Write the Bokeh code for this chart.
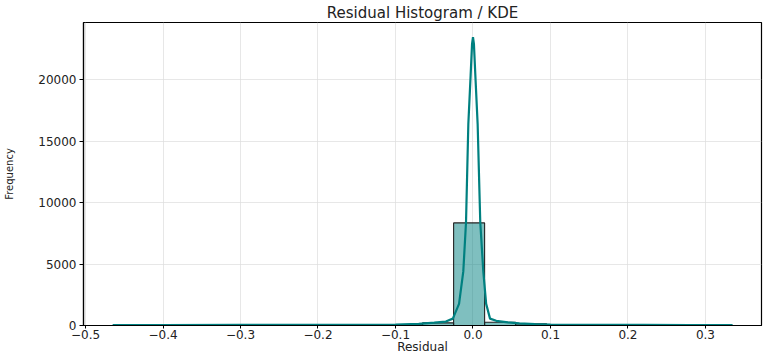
from bokeh.plotting import figure
from bokeh.models import Range1d, FixedTicker
from bokeh.embed import file_html
from bokeh.resources import INLINE

# Histogram bins (20 bins, width 0.04) and counts
bin_left = [-0.465, -0.425, -0.385, -0.345, -0.305, -0.265, -0.225, -0.185, -0.145, -0.105,
            -0.065, -0.025, 0.015, 0.055, 0.095, 0.135, 0.175, 0.215, 0.255, 0.295]
bin_right = [-0.425, -0.385, -0.345, -0.305, -0.265, -0.225, -0.185, -0.145, -0.105, -0.065,
             -0.025, 0.015, 0.055, 0.095, 0.135, 0.175, 0.215, 0.255, 0.295, 0.335]
counts = [2, 1, 1, 2, 3, 4, 6, 10, 20, 50,
          215, 8344, 270, 130, 30, 10, 5, 3, 1, 2]

# KDE curve (scaled to counts)
kde_x = [-0.465, -0.40, -0.30, -0.20, -0.15, -0.10, -0.07, -0.05, -0.035, -0.026, -0.018,
         -0.0125, -0.009, -0.006, -0.003, -0.0012, 0.0, 0.0012, 0.003, 0.006, 0.0094,
         0.0133, 0.017, 0.022, 0.03, 0.045, 0.06, 0.08, 0.10, 0.13, 0.17, 0.22, 0.28, 0.335]
kde_y = [40, 40, 45, 50, 60, 80, 140, 230, 320, 560, 1760,
         4400, 8400, 16400, 20400, 22900, 23450, 22900, 20400, 16400, 8400,
         4400, 1760, 560, 380, 250, 170, 110, 80, 60, 50, 45, 40, 40]

x_ticks = [-0.5, -0.4, -0.3, -0.2, -0.1, 0.0, 0.1, 0.2, 0.3]
x_tick_labels = ["\u22120.5", "\u22120.4", "\u22120.3", "\u22120.2", "\u22120.1", "0.0", "0.1", "0.2", "0.3"]
y_ticks = [0, 5000, 10000, 15000, 20000]

FONT = "DejaVu Sans"

p = figure(width=767, height=356, output_backend="svg", toolbar_location=None,
           x_range=Range1d(-0.5026, 0.3723), y_range=Range1d(0, 24640),
           min_border_left=83, min_border_right=6, min_border_top=18, min_border_bottom=31)

p.title.text = "Residual Histogram / KDE"
p.title.align = "center"
p.title.text_font = FONT
p.title.text_font_size = "15px"
p.title.text_font_style = "normal"
p.title.text_color = "#222222"
p.title.offset = 0
p.title.standoff = 2

p.quad(left=bin_left, right=bin_right, top=counts, bottom=0,
       fill_color="#008080", fill_alpha=0.5, line_color="#222222", line_width=1.1)
p.line(kde_x, kde_y, line_color="#008080", line_width=2.2)

p.outline_line_color = "black"
p.outline_line_width = 1.2
p.outline_line_alpha = 1

for ax in (p.xaxis[0], p.yaxis[0]):
    ax.axis_line_color = "black"
    ax.axis_line_width = 1.2
    ax.major_tick_line_color = "black"
    ax.major_tick_out = 4
    ax.major_tick_in = 0
    ax.minor_tick_line_color = None
    ax.major_label_text_font = FONT
    ax.major_label_text_font_size = "12px"
    ax.major_label_text_color = "#222222"
    ax.axis_label_text_font = FONT
    ax.axis_label_text_font_style = "normal"
    ax.axis_label_text_color = "#222222"

p.xaxis.ticker = FixedTicker(ticks=x_ticks)
p.xaxis.major_label_overrides = {t: l for t, l in zip(x_ticks, x_tick_labels)}
p.xaxis.axis_label = "Residual"
p.xaxis.axis_label_text_font_size = "12px"
p.xaxis.major_tick_out = 3
p.xaxis.major_label_standoff = 1
p.xaxis.axis_label_standoff = -2

p.yaxis.ticker = FixedTicker(ticks=y_ticks)
p.yaxis.axis_label = "Frequency"
p.yaxis.axis_label_text_font_size = "10px"
p.yaxis.major_label_standoff = 3
p.yaxis.axis_label_standoff = 20

p.xgrid.grid_line_color = "#dddddd"
p.ygrid.grid_line_color = "#dddddd"
p.xgrid.grid_line_alpha = 0.7
p.ygrid.grid_line_alpha = 0.7

p.background_fill_color = "white"
p.border_fill_color = "white"

open("out.html", "w").write(file_html(p, INLINE))
